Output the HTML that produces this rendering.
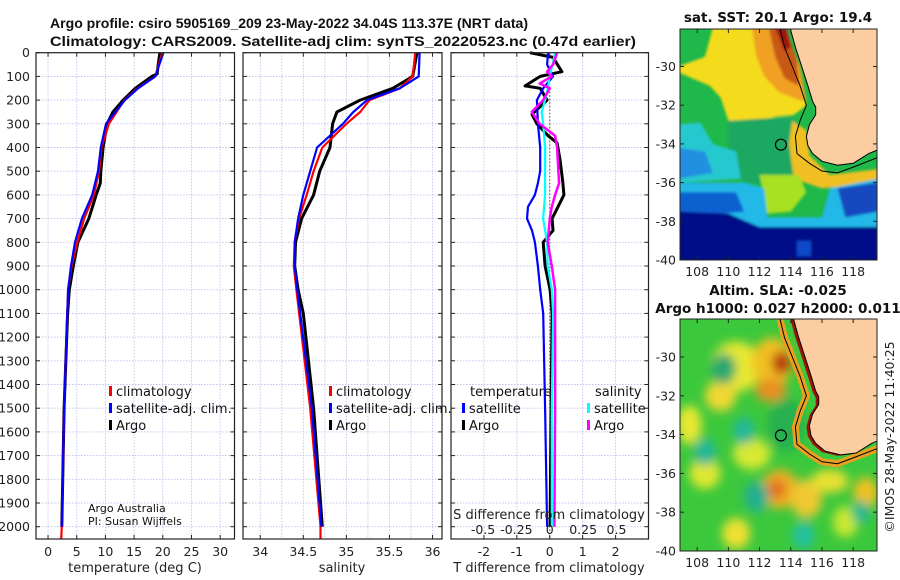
<!DOCTYPE html>
<html><head><meta charset="utf-8">
<style>
html,body{margin:0;padding:0;background:#fff;}
svg{display:block;font-family:"DejaVu Sans","Liberation Sans",sans-serif;}
</style></head>
<body>
<svg id="fig" width="900" height="580" viewBox="0 0 900 580" xmlns="http://www.w3.org/2000/svg">
<defs>
<filter id="blur4" x="-10%" y="-10%" width="120%" height="120%"><feGaussianBlur stdDeviation="5"/></filter>
<filter id="blur1"><feGaussianBlur stdDeviation="1.2"/></filter>
<clipPath id="clipSST"><rect x="680" y="29" width="197" height="231"/></clipPath>
<clipPath id="clipSLA"><rect x="680" y="319" width="197" height="232"/></clipPath>
</defs>
<g id="root"></g>
</svg>
<script>
// ---- Temperature panel data ----
const tDepthArgo = [0,50,90,100,150,200,250,300,400,500,550,600,700,800,900,1000,1100,1500,2000];
const tArgo = [19.5,19.2,19.0,18.1,15.2,13.1,11.3,10.3,9.6,9.2,9.1,8.4,7.1,5.2,4.4,3.7,3.4,2.8,2.4];
const tDepthClim = [0,100,150,200,300,400,500,600,700,800,900,1000,1500,2000,2050];
const tClim = [19.9,18.7,15.6,13.3,10.6,9.3,8.9,8.0,6.3,5.1,4.1,3.5,2.8,2.4,2.3];
const tDepthSat = [0,100,150,200,300,400,500,600,700,800,900,1000,1500,2000];
const tSat = [20.1,18.7,15.7,13.4,10.1,9.2,8.7,7.7,5.9,4.7,4.0,3.5,2.8,2.4];
const tTicks = [0,5,10,15,20,25,30];
// ---- Salinity panel data ----
const sDepthArgo = [0,100,150,200,250,300,400,500,600,700,800,900,1000,1100,1500,2000];
const sArgo = [35.82,35.77,35.54,35.16,34.89,34.84,34.81,34.69,34.62,34.48,34.41,34.40,34.44,34.50,34.62,34.72];
const sDepthClim = [0,100,150,200,250,300,400,500,600,700,800,900,1000,1500,2000,2050];
const sClim = [35.80,35.77,35.62,35.27,35.16,35.00,34.72,34.62,34.54,34.45,34.40,34.39,34.42,34.58,34.70,34.70];
const sDepthSat = [0,100,150,200,250,300,400,500,600,700,800,900,1000,1500,2000];
const sSat = [35.85,35.84,35.62,35.24,35.08,34.96,34.66,34.58,34.50,34.44,34.40,34.40,34.43,34.60,34.71];
const sTicks = [34,34.5,35,35.5,36];
// ---- Difference panel data ----
const dtDepthArgo = [0,20,80,100,140,150,200,260,300,350,380,450,550,600,650,700,750,800,900,1000,1100,1500,2000];
const dtArgo = [-0.60,0.10,0.37,-0.29,-0.75,-0.29,-0.08,-0.54,-0.39,-0.05,0.22,0.31,0.40,0.43,0.25,0.07,0.10,-0.20,-0.14,0.01,0.07,0.04,0.01];
const dtDepthSat = [0,50,100,150,200,300,400,500,550,600,650,700,750,800,900,1000,1100,1500,2000];
const dtSat = [-0.05,-0.08,0.10,-0.20,-0.39,-0.36,-0.29,-0.29,-0.36,-0.45,-0.66,-0.69,-0.54,-0.45,-0.36,-0.29,-0.20,-0.14,-0.08];
const dsDepthSat = [0,100,150,200,250,300,400,500,600,700,800,900,1000,1100,1500,2000];
const dsSat = [0.04,0.0,-0.015,-0.035,-0.06,-0.05,-0.035,-0.035,-0.035,-0.05,-0.02,-0.015,0.015,0.025,0.015,0.015];
const dsDepthArgo = [0,50,80,100,130,150,200,250,300,350,400,500,550,600,650,700,800,900,1000,1500,2000];
const dsArgo = [0.055,0.025,-0.02,0.015,-0.075,0.0,-0.05,-0.135,-0.075,0.04,0.055,0.065,0.07,0.04,0.015,0.0,-0.015,0.015,0.04,0.04,0.035];
const dtTicks = [-2,-1,0,1,2];
const dsTicks = [-0.5,-0.25,0,0.25,0.5];
const depthTicks = [0,100,200,300,400,500,600,700,800,900,1000,1100,1200,1300,1400,1500,1600,1700,1800,1900,2000];

const NS="http://www.w3.org/2000/svg";
const root=document.getElementById('root');
function el(tag,attrs,parent){const e=document.createElementNS(NS,tag);for(const k in attrs)e.setAttribute(k,attrs[k]);(parent||root).appendChild(e);return e;}
function txt(s,attrs,parent){const e=el('text',attrs,parent);e.textContent=s;return e;}

const TOP=52.7, BOT=539;
function yD(d){return TOP+d*0.237;}
function mkX(x0,x1,v0,v1){return v=>x0+(v-v0)*(x1-x0)/(v1-v0);}

const panels=[
 {name:'temperature-panel',x0:36,x1:234.5,v0:-2.1,v1:32.5},
 {name:'salinity-panel',x0:243,x1:442,v0:33.8,v1:36.11},
 {name:'difference-panel',x0:451,x1:648.5,v0:-3,v1:3}
];
const xT=mkX(36,234.5,-2.1,32.5), xS=mkX(243,442,33.8,36.11), xDT=mkX(451,648.5,-3,3), xDS=mkX(451,648.5,-0.74,0.74);

function gridAndFrame(p,vticks,xf,gname){
  const g=el('g',{});
  
  
  depthTicks.forEach(d=>{el('line',{x1:p.x0,x2:p.x1,y1:yD(d),y2:yD(d),stroke:'#c0c0ec','stroke-width':0.9,'stroke-dasharray':'1.5,1.5'},g);});
  vticks.forEach(v=>{el('line',{x1:xf(v),x2:xf(v),y1:TOP,y2:BOT,stroke:'#c0c0ec','stroke-width':0.9,'stroke-dasharray':'1.5,1.5'},g);});
  return g;
}
function frame(p,vticks,xf){
  const g=el('g',{});
  el('rect',{x:p.x0,y:TOP,width:p.x1-p.x0,height:BOT-TOP,fill:'none',stroke:'#222','stroke-width':1.2},g);
  depthTicks.forEach(d=>{el('line',{x1:p.x0,x2:p.x0+4,y1:yD(d),y2:yD(d),stroke:'#222'},g);el('line',{x1:p.x1-4,x2:p.x1,y1:yD(d),y2:yD(d),stroke:'#222'},g);});
  vticks.forEach(v=>{el('line',{x1:xf(v),x2:xf(v),y1:BOT,y2:BOT-4,stroke:'#222'},g);el('line',{x1:xf(v),x2:xf(v),y1:TOP,y2:TOP+4,stroke:'#222'},g);});
}
function line(vals,depths,xf,color,w,name){
  const pts=vals.map((v,i)=>xf(v).toFixed(1)+','+yD(depths[i]).toFixed(1)).join(' ');
  const e=el('polyline',{points:pts,fill:'none',stroke:color,'stroke-width':w,'stroke-linejoin':'round'});
  
  
  return e;
}

gridAndFrame(panels[0],tTicks,xT,'temperature-grid');
gridAndFrame(panels[1],[34,34.25,34.5,34.75,35,35.25,35.5,35.75,36],xS,'salinity-grid');
gridAndFrame(panels[2],dtTicks,xDT,'difference-grid');

depthTicks.forEach(d=>{
  const t=txt(String(d),{x:30,y:yD(d)+4.5,'text-anchor':'end','font-size':'12.5',fill:'#222'});
  
  
});

line(tArgo,tDepthArgo,xT,'#000',3,'temp-argo-line');
line(tClim,tDepthClim,xT,'#f00',2.2,'temp-climatology-line');
line(tSat,tDepthSat,xT,'#00f',2.2,'temp-satellite-line');
tTicks.forEach(v=>{const t=txt(String(v),{x:xT(v),y:556,'text-anchor':'middle','font-size':'12.5',fill:'#222'});});
frame(panels[0],tTicks,xT);

line(sArgo,sDepthArgo,xS,'#000',3,'sal-argo-line');
line(sClim,sDepthClim,xS,'#f00',2.2,'sal-climatology-line');
line(sSat,sDepthSat,xS,'#00f',2.2,'sal-satellite-line');
sTicks.forEach(v=>{const t=txt(String(v),{x:xS(v),y:556,'text-anchor':'middle','font-size':'12.5',fill:'#222'});});
frame(panels[1],sTicks,xS);

el('line',{x1:xDT(0),x2:xDT(0),y1:yD(150),y2:BOT,stroke:'#555','stroke-width':1,'stroke-dasharray':'1.5,2'});
line(dtArgo,dtDepthArgo,xDT,'#000',3,'tdiff-argo-line');
line(dtSat,dtDepthSat,xDT,'#00f',2.2,'tdiff-satellite-line');
line(dsSat,dsDepthSat,xDS,'#0ff',2.2,'sdiff-satellite-line');
line(dsArgo,dsDepthArgo,xDS,'#f0f',2.5,'sdiff-argo-line');
dtTicks.forEach(v=>{const t=txt(String(v),{x:xDT(v),y:556,'text-anchor':'middle','font-size':'12.5',fill:'#222'});});
dsTicks.forEach(v=>{const t=txt(String(v),{x:xDS(v),y:534,'text-anchor':'middle','font-size':'12.5',fill:'#222'});});
frame(panels[2],dtTicks,xDT);
</script>

<script>
(function(){
const NS="http://www.w3.org/2000/svg";const root=document.getElementById('root');
function el(tag,attrs,parent){const e=document.createElementNS(NS,tag);for(const k in attrs)e.setAttribute(k,attrs[k]);(parent||root).appendChild(e);return e;}
function txt(s,attrs,name,parent){const e=el('text',attrs,parent);e.textContent=s;return e;}

txt('Argo profile: csiro 5905169_209 23-May-2022 34.04S 113.37E (NRT data)',{x:50,y:28,'font-size':'14','font-family':'Liberation Sans, sans-serif','font-weight':'bold',textLength:478,lengthAdjust:'spacingAndGlyphs',fill:'#111'},'title-line-1');
txt('Climatology: CARS2009. Satellite-adj clim: synTS_20220523.nc (0.47d earlier)',{x:50,y:46,'font-size':'14','font-family':'Liberation Sans, sans-serif','font-weight':'bold',textLength:586,lengthAdjust:'spacingAndGlyphs',fill:'#111'},'title-line-2');

txt('temperature (deg C)',{x:135,y:572,'text-anchor':'middle','font-size':'13',fill:'#222'},'temperature-axis-title');
txt('salinity',{x:342,y:572,'text-anchor':'middle','font-size':'13',fill:'#222'},'salinity-axis-title');
txt('T difference from climatology',{x:549,y:572,'text-anchor':'middle','font-size':'13',fill:'#222'},'tdiff-axis-title');
txt('S difference from climatology',{x:549,y:519,'text-anchor':'middle','font-size':'13',fill:'#222'},'sdiff-axis-title');

function legend(x,y0,items,name){
  const g=el('g',{});
  items.forEach((it,i)=>{const y=y0+i*17;
    el('rect',{x:x,y:y-6,width:3,height:10,fill:it[1]},g);
    txt(it[0],{x:x+7,y:y+4,'font-size':'13',fill:'#111'},'legend-entry',g);});
}
legend(109,392,[['climatology','#f00'],['satellite-adj. clim.','#00f'],['Argo','#000']],'temperature-legend');
legend(329,392,[['climatology','#f00'],['satellite-adj. clim.','#00f'],['Argo','#000']],'salinity-legend');
txt('temperature',{x:470,y:396,'font-size':'13',fill:'#111'},'legend-title-temperature');
txt('salinity',{x:595,y:396,'font-size':'13',fill:'#111'},'legend-title-salinity');
legend(462,409,[['satellite','#00f'],['Argo','#000']],'tdiff-legend');
legend(587,409,[['satellite','#0ff'],['Argo','#f0f']],'sdiff-legend');

txt('Argo Australia',{x:88,y:512,'font-size':'11',fill:'#111'},'credit-line-1');
txt('PI: Susan Wijffels',{x:88,y:525,'font-size':'11',fill:'#111'},'credit-line-2');

const lonX=lon=>680+(lon-106.9)*15.6;
function mapFrame(top,bot,latY,name){
  const g=el('g',{});
  el('rect',{x:680,y:top,width:197,height:bot-top,fill:'none',stroke:'#222','stroke-width':1},g);
  [-30,-32,-34,-36,-38,-40].forEach(l=>{const y=latY(l);el('line',{x1:680,x2:684,y1:y,y2:y,stroke:'#222'},g);el('line',{x1:873,x2:877,y1:y,y2:y,stroke:'#222'},g);
    txt(String(l),{x:676,y:y+4.5,'text-anchor':'end','font-size':'12.5',fill:'#222'},'lat-tick-label',g);});
  [108,110,112,114,116,118].forEach(l=>{const x=lonX(l);el('line',{x1:x,x2:x,y1:bot,y2:bot-4,stroke:'#222'},g);el('line',{x1:x,x2:x,y1:top,y2:top+4,stroke:'#222'},g);
    txt(String(l),{x:x,y:bot+16,'text-anchor':'middle','font-size':'12.5',fill:'#222'},'lon-tick-label',g);});
}
function coast(latY){
  const pts=[[113.95,-28.0],[114.3,-29],[114.7,-30],[115.1,-31],[115.4,-31.8],[115.6,-32.1],[115.6,-32.5],[115.2,-33],[115.0,-33.6],[115.1,-34.1],[115.4,-34.5],[116,-34.9],[117,-35.1],[118,-35.0],[119,-34.5],[119.6,-34.3],[119.6,-28.0]];
  return pts.map(p=>lonX(p[0]).toFixed(1)+','+latY(p[1]).toFixed(1)).join(' ');
}
function shelf(latY){
  const pts=[[113.3,-28.0],[113.6,-29],[114.1,-30],[114.6,-31],[115.0,-32],[114.6,-32.8],[114.3,-33.6],[114.4,-34.5],[115.2,-35.0],[116,-35.4],[117,-35.5],[118,-35.2],[119.6,-34.7]];
  return pts.map(p=>lonX(p[0]).toFixed(1)+','+latY(p[1]).toFixed(1)).join(' ');
}
function poly(g,pts,latY,fill){return el('polygon',{points:pts.map(p=>lonX(p[0]).toFixed(1)+','+latY(p[1]).toFixed(1)).join(' '),fill:fill},g);}

const latA=l=>260-(l+40)*19.35;
const gA=el('g',{'clip-path':'url(#clipSST)'});
el('rect',{x:680,y:29,width:197,height:231,fill:'#1fb84a'},gA);
const gAb=el('g',{filter:'url(#blur1)'},gA);
poly(gAb,[[106.8,-30.0],[108.5,-29.5],[109,-28],[113.5,-28],[114.5,-30],[115,-32],[114.2,-32.5],[113,-32.6],[112,-32.8],[110,-32.8],[109.5,-31.6],[108.8,-31.0],[106.8,-30.3]],latA,'#f4dc1c');
poly(gAb,[[111.5,-28],[113.6,-28],[114.6,-30],[115,-31.8],[114.4,-31.7],[113.2,-31.3],[112.3,-30.5],[111.8,-29.5]],latA,'#f0a020');
poly(gAb,[[112.6,-28],[113.7,-28],[114.4,-29.7],[114.5,-31],[113.6,-30.6],[113.0,-29.5]],latA,'#c85818');
poly(gAb,[[113.0,-28],[113.7,-28],[114.0,-29],[113.6,-29.2]],latA,'#a01810');
poly(gAb,[[110,-32.8],[114,-32.6],[115,-33.4],[114.5,-35.5],[113.5,-36.2],[111,-36],[110,-35]],latA,'#1aa860');
poly(gAb,[[106.8,-33.0],[108.2,-32.9],[109,-34],[110.5,-34.4],[110.8,-35.8],[106.8,-36.0]],latA,'#28c8d0');
poly(gAb,[[106.8,-34.2],[108.5,-34.4],[109,-35.5],[106.8,-35.8]],latA,'#2090e0');
poly(gAb,[[114.1,-32.8],[115,-33.3],[115.2,-34.6],[116.5,-35.6],[119.6,-35.3],[119.6,-36.0],[116,-36.3],[114.2,-35.8],[113.9,-34]],latA,'#f0c020');
poly(gAb,[[112,-35.6],[114.5,-35.6],[115,-36.5],[114,-37.5],[112.5,-37.6]],latA,'#a8e020');
poly(gAb,[[106.8,-36.0],[111,-36],[112.3,-36.3],[112.5,-37.8],[116,-37.8],[116.5,-36.3],[119.6,-35.8],[119.6,-38.4],[106.8,-38.4]],latA,'#20b8e8');
poly(gAb,[[106.8,-36.5],[110.5,-36.5],[111,-37.5],[106.8,-37.8]],latA,'#1060d0');
poly(gAb,[[117,-36.3],[119.6,-36.0],[119.6,-37.5],[117.5,-37.8]],latA,'#1448c0');
poly(gAb,[[106.8,-37.5],[110,-37.6],[112,-38.3],[119.6,-38.3],[119.6,-40.2],[106.8,-40.2]],latA,'#050f88');
poly(gAb,[[114.4,-39.0],[115.3,-39.0],[115.3,-39.8],[114.4,-39.8]],latA,'#1048c8');
el('polygon',{points:coast(latA),fill:'#fbcda0',stroke:'#000','stroke-width':1},gA);
el('polyline',{points:shelf(latA),fill:'none',stroke:'#000','stroke-width':1},gA);
el('circle',{cx:lonX(113.37),cy:latA(-34.04),r:5.5,fill:'none',stroke:'#000','stroke-width':1.2},gA);
mapFrame(29,260,latA,'sst-map');
txt('sat. SST: 20.1 Argo: 19.4',{x:778,y:22,'text-anchor':'middle','font-size':'13.5','font-weight':'bold',fill:'#111'},'sst-map-title');

const latB=l=>551-(l+40)*19.4;
const gB=el('g',{'clip-path':'url(#clipSLA)'});
el('rect',{x:680,y:319,width:197,height:232,fill:'#3cc83c'},gB);
const gBb=el('g',{filter:'url(#blur4)'},gB);
const blobs=[
 [110.5,-30.5,1.6,1.3,'#e8e830'],[112.8,-30.3,1.3,1.3,'#f0c020'],[113.4,-30.3,0.6,0.6,'#b83010'],[112.7,-31.7,1.0,0.6,'#e89020'],
 [109.5,-32.0,1.0,0.8,'#f0d830'],[107.5,-33.5,0.8,1.0,'#e8e830'],[111.5,-35.0,1.2,0.8,'#d8e830'],[108.5,-36.0,1.0,0.8,'#e0e830'],
 [113.3,-36.8,1.2,1.0,'#f0b020'],[113.1,-36.8,0.6,0.5,'#e07020'],[115.0,-37.3,1.0,1.0,'#f0c830'],[116.5,-36.4,1.2,0.6,'#e8e030'],
 [118.8,-37.0,0.8,0.8,'#f0c020'],[110.5,-39.1,0.9,0.8,'#f0e030'],[117.5,-38.5,0.8,0.8,'#c8e830'],
 [111.0,-33.8,0.7,0.7,'#20b898'],[108.5,-34.9,0.7,0.7,'#20b898'],[111.8,-37.2,0.8,0.8,'#20b090'],[114.8,-39.2,0.7,0.7,'#20c0a0'],
 [109.7,-30.6,0.8,0.8,'#28a870'],[118.5,-38.0,0.6,0.6,'#20b890'],[113.7,-33.5,1.2,1.4,'#28b050']];
blobs.forEach(b=>{el('ellipse',{cx:lonX(b[0]),cy:latB(b[1]),rx:b[2]*15.6,ry:b[3]*19.4,fill:b[4]},gBb);});
el('polyline',{points:shelf(latB),fill:'none',stroke:'#e8a020','stroke-width':7},gB);
el('polyline',{points:shelf(latB),fill:'none',stroke:'#000','stroke-width':1},gB);
el('polygon',{points:coast(latB),fill:'#a01408'},gB);
el('polygon',{points:coast(latB),fill:'#fbcda0',stroke:'#000','stroke-width':1,transform:'translate(3,-1)'},gB);
el('circle',{cx:lonX(113.37),cy:latB(-34.04),r:5.5,fill:'none',stroke:'#000','stroke-width':1.2},gB);
mapFrame(319,551,latB,'sla-map');
txt('Altim. SLA: -0.025',{x:778,y:295,'text-anchor':'middle','font-size':'13.5','font-weight':'bold',fill:'#111'},'sla-map-title-1');
txt('Argo h1000: 0.027 h2000: 0.011',{x:778,y:313,'text-anchor':'middle','font-size':'13.5','font-weight':'bold',fill:'#111'},'sla-map-title-2');
txt('©IMOS 28-May-2022 11:40:25',{x:0,y:0,'text-anchor':'middle','font-size':'12.5',fill:'#222',transform:'translate(894,437) rotate(-90)'},'imos-timestamp');
})();
</script>
</body></html>
